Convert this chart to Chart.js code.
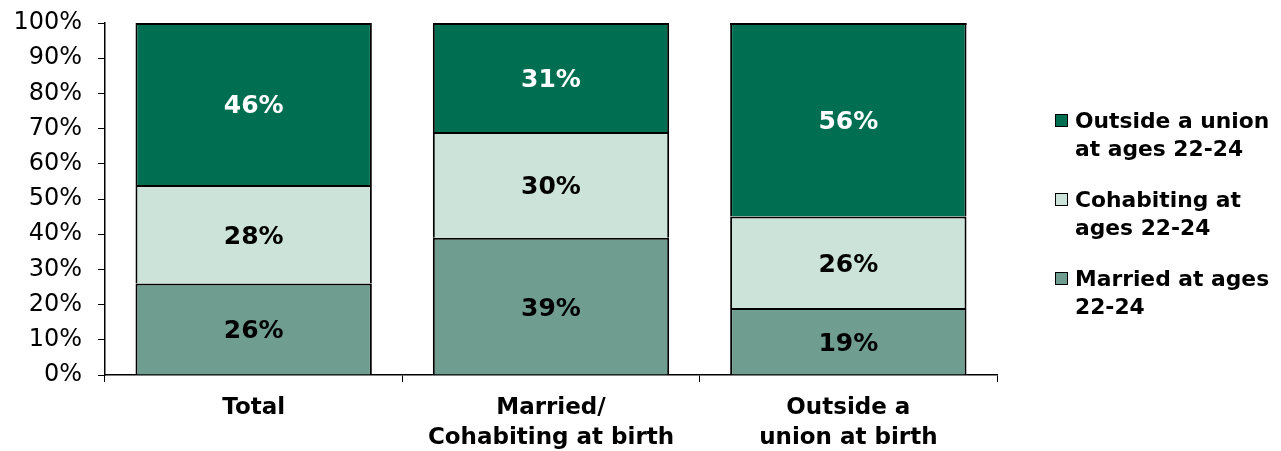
<!DOCTYPE html>
<html><head><meta charset="utf-8">
<script src="https://cdn.jsdelivr.net/npm/chart.js@4/dist/chart.umd.min.js"></script>
<style>
html,body{margin:0;padding:0;background:#fff;}
#wrap{position:relative;width:1281px;height:451px;}
#legend{position:absolute;left:1055px;top:107px;font-family:"DejaVu Sans",Verdana,sans-serif;font-weight:bold;font-size:21.8px;line-height:28px;color:#000;}
.li{position:relative;padding-left:20px;margin-bottom:23px;white-space:nowrap;}
.sw{position:absolute;left:0;top:7px;width:11px;height:11px;border:1.5px solid #000;}
</style></head><body>
<div id="wrap"><canvas id="c" width="1281" height="451"></canvas><div id="legend"></div></div>
<script>
const categories = [["Total"], ["Married/", "Cohabiting at birth"], ["Outside a", "union at birth"]];
const seriesNames = ["Married at ages 22-24", "Cohabiting at ages 22-24", "Outside a union at ages 22-24"];
const legendLines = [["Married at ages", "22-24"], ["Cohabiting at", "ages 22-24"], ["Outside a union", "at ages 22-24"]];
const married = [26, 39, 19];
const cohabiting = [28, 30, 26];
const outside = [46, 31, 56];
const yTicks = [0, 10, 20, 30, 40, 50, 60, 70, 80, 90, 100];
const colors = ["#6f9e91", "#cce3da", "#006f51"];
const labelColors = ["#000", "#000", "#fff"];

const seriesData = [married, cohabiting, outside];
const datasets = seriesData.map((d, i) => ({
  label: seriesNames[i], data: d, backgroundColor: colors[i],
  borderColor: "#000",
  borderWidth: { left: 2, right: 2, top: 2, bottom: 0 },
  borderSkipped: false,
  barPercentage: 0.795, categoryPercentage: 1
}));

const valueLabels = {
  id: 'valueLabels',
  afterDatasetsDraw(chart) {
    const ctx = chart.ctx;
    const area = chart.chartArea;
    ctx.save();
    // top edge for segments reaching past the axis maximum (clipped by the chart area)
    const last = chart.getDatasetMeta(chart.data.datasets.length - 1);
    ctx.fillStyle = '#000';
    last.data.forEach(bar => {
      if (bar.y < area.top) ctx.fillRect(bar.x - bar.width / 2, area.top, bar.width, 2);
    });
    ctx.font = 'bold 25px "DejaVu Sans", Verdana, sans-serif';
    ctx.textAlign = 'center'; ctx.textBaseline = 'middle';
    chart.data.datasets.forEach((ds, i) => {
      const meta = chart.getDatasetMeta(i);
      meta.data.forEach((bar, j) => {
        const top = Math.max(bar.y, area.top);
        const y = (top + bar.base) / 2;
        ctx.fillStyle = labelColors[i];
        ctx.fillText(ds.data[j] + '%', bar.x, y + 3);
      });
    });
    ctx.restore();
  }
};

new Chart(document.getElementById('c'), {
  type: 'bar',
  data: { labels: categories, datasets },
  options: {
    responsive: false, animation: false,
    layout: { padding: { top: 23, right: 284, bottom: 0, left: 0 } },
    plugins: { legend: { display: false }, tooltip: { enabled: false } },
    scales: {
      x: {
        stacked: true,
        grid: { display: true, drawOnChartArea: false, drawTicks: true, tickLength: 7, color: '#000', offset: true },
        border: { display: true, color: '#000', width: 1.5 },
        ticks: { color: '#000', padding: 11, maxRotation: 0, autoSkip: false,
          font: { family: '"DejaVu Sans", Verdana, sans-serif', weight: 'bold', size: 23, lineHeight: 1.3 } },
        afterFit(s) { s.height = 76; s.paddingLeft = 0; s.paddingRight = 0; }
      },
      y: {
        stacked: true, min: 0, max: 100,
        afterBuildTicks(s) { s.ticks = yTicks.map(v => ({ value: v })); },
        grid: { display: true, drawOnChartArea: false, drawTicks: true, tickLength: 7, color: '#000' },
        border: { display: true, color: '#000', width: 1.5 },
        ticks: { color: '#000', padding: 16, callback: v => v + '%',
          font: { family: '"DejaVu Sans", Verdana, sans-serif', size: 24 } },
        afterFit(s) { s.width = 105; s.paddingTop = 0; s.paddingBottom = 0; }
      }
    }
  },
  plugins: [valueLabels]
});

const lg = document.getElementById('legend');
[2, 1, 0].forEach(i => {
  const d = document.createElement('div'); d.className = 'li';
  const sw = document.createElement('span'); sw.className = 'sw'; sw.style.background = colors[i];
  d.appendChild(sw);
  legendLines[i].forEach((t, k) => { if (k) d.appendChild(document.createElement('br')); d.appendChild(document.createTextNode(t)); });
  lg.appendChild(d);
});
</script>
</body></html>
